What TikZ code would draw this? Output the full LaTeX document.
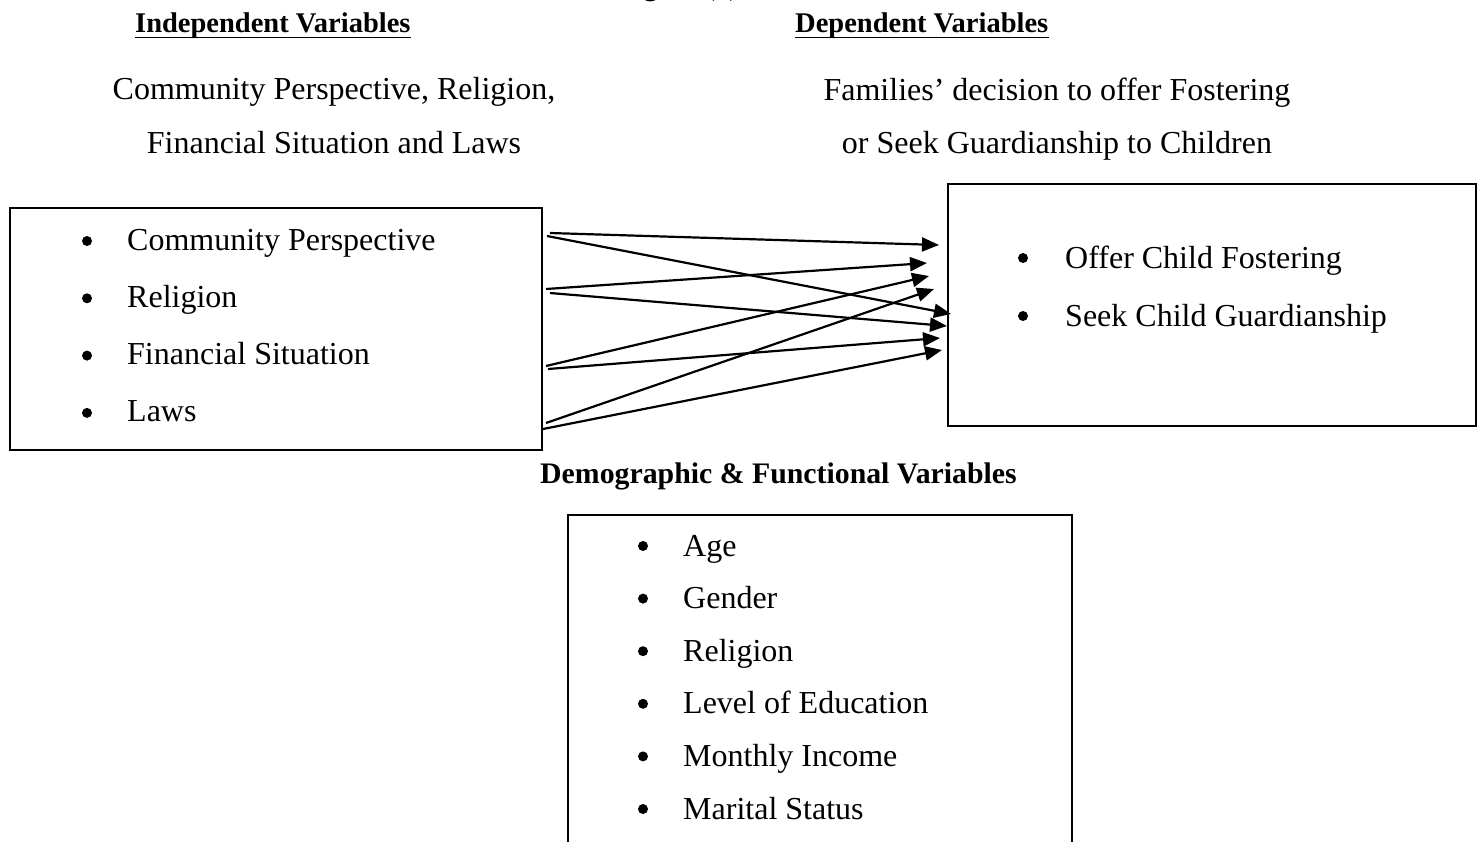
\documentclass[tikz,border=0pt]{standalone}
\usepackage{fontspec}
\setmainfont{Liberation Serif}
\usetikzlibrary{arrows.meta}

\tikzset{
  txt/.style={inner sep=0pt, anchor=base, font=\fontsize{32}{38}\selectfont},
  item/.style={txt, anchor=base west},
  head/.style={inner sep=0pt, anchor=base west, font=\fontsize{28.5}{34}\selectfont\bfseries},
  box/.style={draw, line width=1.8pt, anchor=north west, inner sep=0pt},
  arr/.style={line width=2.2pt, -{Triangle[length=17pt,width=14pt]}},
}

\begin{document}
\begin{tikzpicture}[x=1pt,y=-1pt]
  \useasboundingbox (0,0) rectangle (1481,841);
  % title line, cut off by the top of the page
  \node[head] (fig) at (618,-4.5) {Figure (1)};
  % headings
  \node[head] (iv) at (135,32) {Independent Variables};
  \node[head] (dv) at (795,32) {Dependent Variables};
  \draw[line width=1.8pt] ([yshift=-5.5pt]iv.base west) -- ([yshift=-5.5pt]iv.base east);
  \draw[line width=1.8pt] ([yshift=-5.5pt]dv.base west) -- ([yshift=-5.5pt]dv.base east);
  \node[txt] (ivsum1) at (334,99) {Community Perspective, Religion,};
  \node[txt] (ivsum2) at (334,153) {Financial Situation and Laws};
  \node[txt] (dvsum1) at (1057,100) {Families' decision to offer Fostering};
  \node[txt] (dvsum2) at (1057,153) {or Seek Guardianship to Children};

  % boxes
  \node[box, minimum width=532pt, minimum height=242pt] (ivbox) at (9,207) {};
  \node[box, minimum width=528pt, minimum height=242pt] (dvbox) at (947,183) {};
  \node[head, font=\fontsize{29.8}{35}\selectfont\bfseries] (df) at (540,483) {Demographic \& Functional Variables};
  \node[box, minimum width=504pt, minimum height=360pt] (dfbox) at (567,514) {};

  % list items
  \foreach \t [count=\i] in {Community Perspective, Religion, Financial Situation, Laws} {
    \node[item] (ivi\i) at (127,{250+57.3*(\i-1)}) {\t};
    \fill (87,{241+57.3*(\i-1)}) circle (5pt);
  }
  \foreach \t [count=\i] in {Offer Child Fostering, Seek Child Guardianship} {
    \node[item] (dvi\i) at (1065,{268+58*(\i-1)}) {\t};
    \fill (1023,{258+58*(\i-1)}) circle (5pt);
  }
  \foreach \t [count=\i] in {Age, Gender, Religion, Level of Education, Monthly Income, Marital Status} {
    \node[item] (dfi\i) at (683,{556+52.6*(\i-1)}) {\t};
    \fill (643,{546+52.6*(\i-1)}) circle (5pt);
  }

  % arrow ends
  \coordinate (cp-a) at (550,233);  \coordinate (cp-b) at (547,236);
  \coordinate (rel-a) at (546,289); \coordinate (rel-b) at (550,293);
  \coordinate (fin-a) at (546,366); \coordinate (fin-b) at (548,369);
  \coordinate (law-a) at (546,423); \coordinate (law-b) at (543,429);
  \coordinate (off-cp) at (939,245);  \coordinate (off-rel) at (927,263);
  \coordinate (off-fin) at (929,276); \coordinate (off-law) at (934,289);
  \coordinate (seek-cp) at (951,314);  \coordinate (seek-rel) at (947,326);
  \coordinate (seek-fin) at (940,338); \coordinate (seek-law) at (942,350);

  \foreach \s/\e in {cp-a/off-cp, cp-b/seek-cp, rel-a/off-rel, rel-b/seek-rel,
                     fin-a/off-fin, fin-b/seek-fin, law-a/off-law, law-b/seek-law}
    \draw[arr] (\s) -- (\e);
\end{tikzpicture}
\end{document}
